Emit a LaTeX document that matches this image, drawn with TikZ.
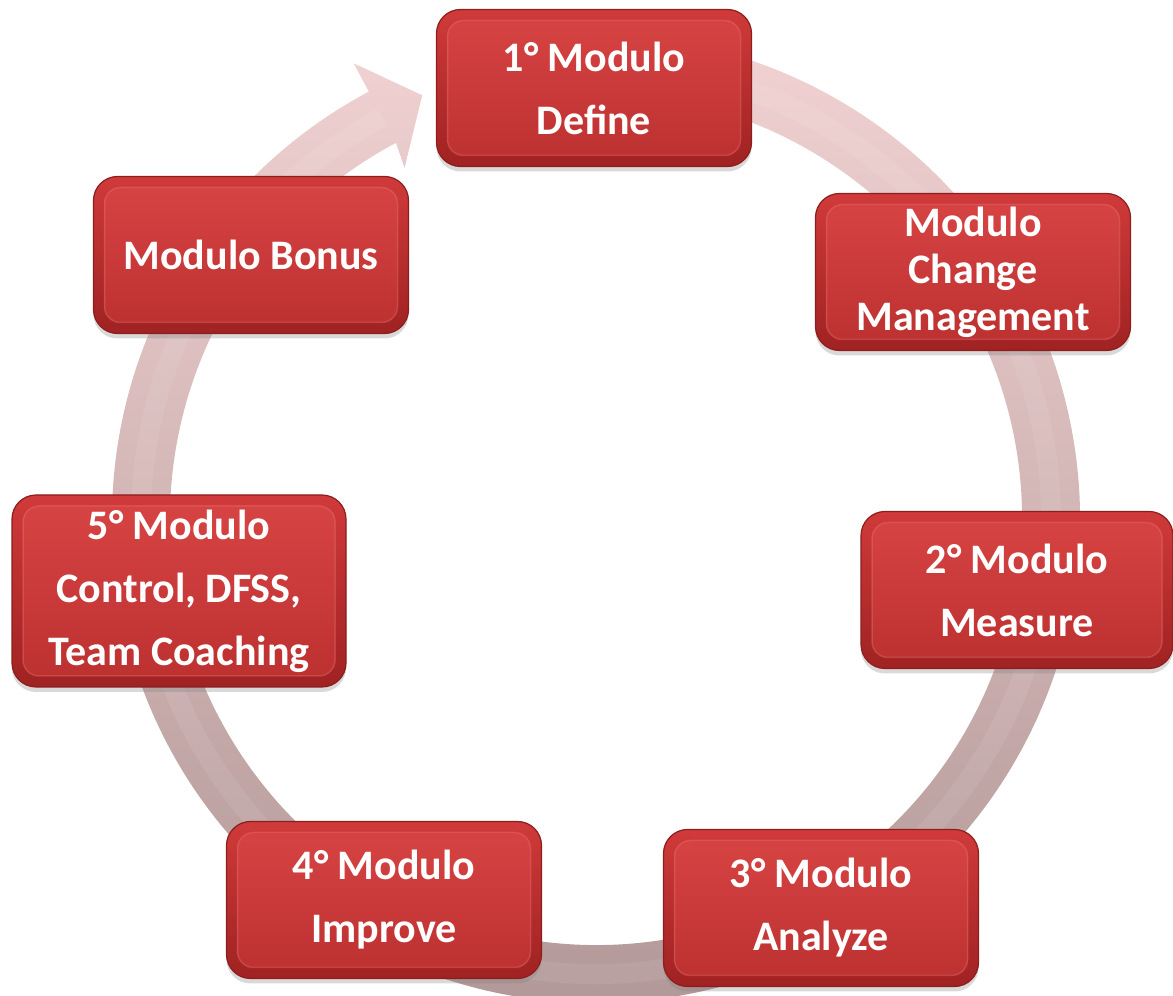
\documentclass[tikz,border=0pt]{standalone}
\usepackage{fontspec}
\setmainfont{Carlito}
\usetikzlibrary{shadows,calc}
\definecolor{boxtop}{RGB}{208,58,58}
\definecolor{boxbot}{RGB}{160,34,34}
\definecolor{boxedge}{RGB}{140,30,30}
\definecolor{innertop}{RGB}{216,68,68}
\definecolor{innerbot}{RGB}{188,48,48}
\definecolor{innerhl}{RGB}{236,120,120}
\definecolor{ringtop}{RGB}{244,212,212}
\definecolor{ringbot}{RGB}{176,150,150}
\begin{document}
\begin{tikzpicture}[x=1pt,y=1pt,
  modbox/.style={rounded corners=24pt, minimum width=315pt, minimum height=157pt,
    inner sep=0pt, align=center, text=white,
    font=\bfseries\fontsize{42}{63}\selectfont,
    top color=boxtop, bottom color=boxbot, draw=boxedge, line width=1.2pt,
    drop shadow={shadow xshift=0pt, shadow yshift=-5pt, opacity=0.3},
    path picture={\draw[rounded corners=16pt, top color=innertop, bottom color=innerbot,
        draw=innerhl, draw opacity=0.35, line width=1.5pt]
      ([shift={(11pt,-11pt)}]path picture bounding box.north west) rectangle
      ([shift={(-11pt,11pt)}]path picture bounding box.south east);}},
  ring/.style={shading=axis, top color=ringtop, bottom color=ringbot, draw=none}]
\useasboundingbox (0,0) rectangle (1173,996);
\coordinate (C) at (596,477);
% circular arrow
\path[ring] ($(C)+(100:484)$) arc[start angle=100, end angle=-242, radius=484]
  -- ($(C)+(-242:516)$) -- ($(C)+(-247.7:458)$) -- ($(C)+(-241.4:400)$)
  -- ($(C)+(-242:426)$) arc[start angle=-242, end angle=100, radius=426] -- cycle;
\draw[white, opacity=0.08, line width=20pt] ($(C)+(100:455)$) arc[start angle=100, end angle=-242, radius=455];
% modules
\node[modbox] (m1) at (594,908) {1° Modulo\\Define};
\node[modbox, font=\bfseries\fontsize{42}{47}\selectfont] (m2) at (973,724) {Modulo\\Change\\Management};
\node[modbox, minimum width=312pt] (m3) at (1017,406) {2° Modulo\\Measure};
\node[modbox] (m4) at (821,88) {3° Modulo\\Analyze};
\node[modbox] (m5) at (384,96) {4° Modulo\\Improve};
\node[modbox, minimum width=334pt, minimum height=192pt] (m6) at (179,405) {5° Modulo\\Control, DFSS,\\Team Coaching};
\node[modbox] (m7) at (251,741) {Modulo Bonus};
\end{tikzpicture}
\end{document}
